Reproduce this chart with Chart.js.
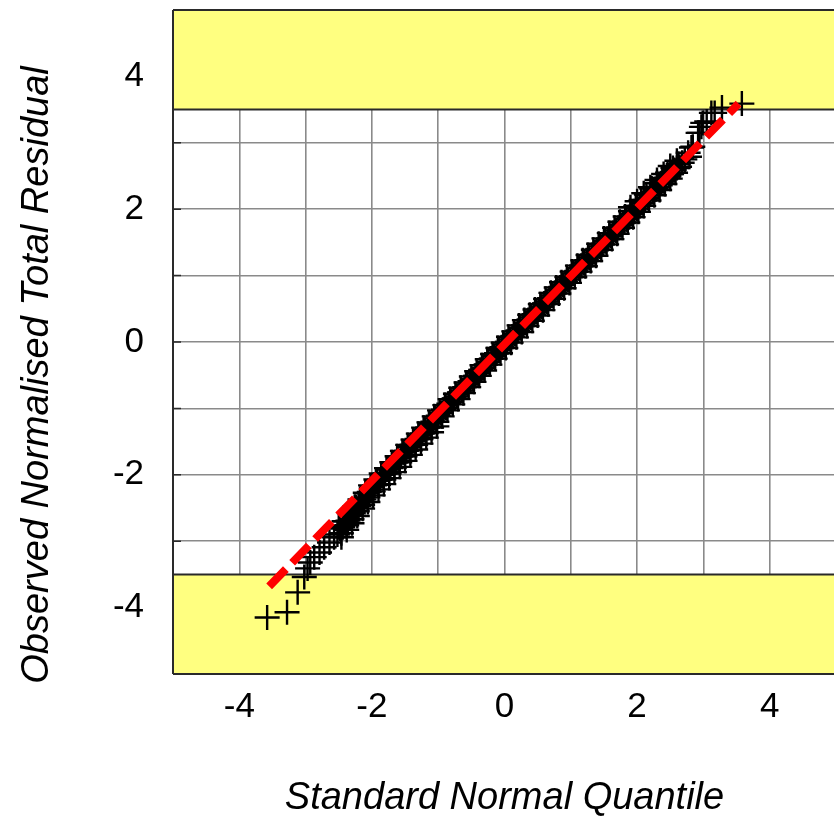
<!DOCTYPE html>
<html>
<head>
<meta charset="utf-8">
<script src="https://cdn.jsdelivr.net/npm/chart.js@4.4.1/dist/chart.umd.min.js"></script>
<style>
  html, body { margin: 0; padding: 0; background: #fff; overflow: hidden; }
  #wrap { width: 840px; height: 817px; }
</style>
</head>
<body>
<div id="wrap"><canvas id="qq"></canvas></div>
<script>
// normal quantiles vs observed normalised residuals
const quantiles = [
  -3.58, -3.28, -3.12, -3.02, -2.97, -2.93, -2.87, -2.79, -2.72, -2.64, -2.57,
  -2.52, -2.48, -2.44, -2.40, -2.36, -2.32, -2.28, -2.24, -2.20, -2.16, -2.12, -2.08, -2.04, -2.00,
  -1.96, -1.92, -1.88, -1.84, -1.80, -1.76, -1.72, -1.68, -1.64, -1.60, -1.56, -1.52, -1.48, -1.44,
  -1.40, -1.36, -1.32, -1.28, -1.24, -1.20, -1.16, -1.12, -1.08, -1.04, -1.00,
  -0.96, -0.92, -0.88, -0.84, -0.80, -0.76, -0.72, -0.68, -0.64, -0.60, -0.56, -0.52, -0.48, -0.44,
  -0.40, -0.36, -0.32, -0.28, -0.24, -0.20, -0.16, -0.12, -0.08, -0.04, 0.00,
  0.04, 0.08, 0.12, 0.16, 0.20, 0.24, 0.28, 0.32, 0.36, 0.40, 0.44, 0.48, 0.52, 0.56, 0.60,
  0.64, 0.68, 0.72, 0.76, 0.80, 0.84, 0.88, 0.92, 0.96, 1.00, 1.04, 1.08, 1.12, 1.16, 1.20,
  1.24, 1.28, 1.32, 1.36, 1.40, 1.44, 1.48, 1.52, 1.56, 1.60, 1.64, 1.68, 1.72, 1.76, 1.80,
  1.84, 1.88, 1.92, 1.96, 2.00, 2.04, 2.08, 2.12, 2.16, 2.20, 2.24, 2.28, 2.32, 2.36, 2.40,
  2.44, 2.48, 2.52, 2.56, 2.60, 2.64, 2.68, 2.72, 2.77, 2.79, 2.82, 2.84, 2.92, 2.94, 2.97,
  2.99, 3.05, 3.12, 3.17, 3.28, 3.58
];
const residuals = [
  -4.15, -4.07, -3.77, -3.54, -3.41, -3.32, -3.24, -3.17, -3.09, -3.02, -2.94,
  -2.90, -2.81, -2.79, -2.70, -2.69, -2.60, -2.58, -2.49, -2.47, -2.38, -2.37, -2.28, -2.26, -2.18,
  -2.16, -2.09, -2.07, -2.00, -1.98, -1.92, -1.90, -1.83, -1.81, -1.75, -1.72, -1.66, -1.64, -1.58,
  -1.55, -1.49, -1.46, -1.41, -1.38, -1.32, -1.29, -1.23, -1.20, -1.15, -1.11,
  -1.07, -1.02, -0.99, -0.93, -0.90, -0.85, -0.82, -0.76, -0.73, -0.68, -0.64, -0.59, -0.56, -0.51,
  -0.47, -0.42, -0.39, -0.34, -0.30, -0.25, -0.21, -0.17, -0.12, -0.08, -0.04,
  0.00, 0.04, 0.08, 0.12, 0.17, 0.21, 0.25, 0.29, 0.33, 0.37, 0.41, 0.45, 0.49, 0.53, 0.58,
  0.61, 0.66, 0.70, 0.74, 0.78, 0.82, 0.86, 0.90, 0.94, 0.98, 1.03, 1.06, 1.11, 1.15, 1.19,
  1.23, 1.27, 1.31, 1.35, 1.39, 1.44, 1.47, 1.52, 1.55, 1.60, 1.64, 1.68, 1.72, 1.76, 1.80,
  1.85, 1.88, 1.93, 1.96, 2.01, 2.05, 2.09, 2.14, 2.17, 2.22, 2.26, 2.30, 2.33, 2.39, 2.42,
  2.47, 2.50, 2.53, 2.59, 2.62, 2.64, 2.70, 2.75, 2.85, 2.79, 2.93, 2.94, 3.15, 3.15, 3.24,
  3.30, 3.32, 3.45, 3.45, 3.53, 3.59
];

// the scattered points either side of the main run
const spreadQuantiles = [
  -2.50, -2.46, -2.42, -2.38, -2.34, -2.30, -2.26, -2.22, -2.18, -2.14, -2.10, -2.06, -2.02,
  -1.98, -1.94, -1.90, -1.86, -1.82, -1.78, -1.74, -1.70, -1.66, -1.62, -1.58, -1.54, -1.50,
  -1.46, -1.42, -1.38, -1.34, -1.30, -1.26, -1.22, -1.18, -1.14, -1.10, -1.06, -1.02,
  -0.98, -0.94, -0.90, -0.86, -0.82, -0.78, -0.74, -0.70, -0.66, -0.62, -0.58, -0.54, -0.50,
  -0.46, -0.42, -0.38, -0.34, -0.30, -0.26, -0.22, -0.18, -0.14, -0.10, -0.06, -0.02,
  0.02, 0.06, 0.10, 0.14, 0.18, 0.22, 0.26, 0.30, 0.34, 0.38, 0.42, 0.46, 0.50, 0.54, 0.58,
  0.62, 0.66, 0.70, 0.74, 0.78, 0.82, 0.86, 0.90, 0.94, 0.98, 1.02, 1.06, 1.10, 1.14, 1.18,
  1.22, 1.26, 1.30, 1.34, 1.38, 1.42, 1.46, 1.50, 1.54, 1.58, 1.62, 1.66, 1.70, 1.74, 1.78,
  1.82, 1.86, 1.90, 1.94, 1.98, 2.02, 2.06, 2.10, 2.14, 2.18, 2.22, 2.26, 2.30, 2.34, 2.38,
  2.42, 2.46, 2.50, 2.54, 2.58, 2.62,
  // low side, left half
  -2.46, -2.38, -2.30, -2.22, -2.14, -2.06, -1.98, -1.90, -1.82, -1.74, -1.66, -1.58, -1.50,
  -1.42, -1.34, -1.26, -1.18, -1.10, -1.02,
  // high side, right end
  1.90, 2.00, 2.10, 2.20, 2.30, 2.40, 2.50, 2.60
];
const spreadResiduals = [
  -2.79, -2.88, -2.70, -2.76, -2.58, -2.67, -2.48, -2.55, -2.37, -2.45, -2.27, -2.34, -2.16,
  -2.25, -2.07, -2.15, -1.98, -2.07, -1.90, -1.98, -1.81, -1.89, -1.72, -1.81, -1.64, -1.72,
  -1.55, -1.63, -1.47, -1.55, -1.38, -1.46, -1.29, -1.37, -1.21, -1.29, -1.12, -1.20,
  -1.03, -1.12, -0.95, -1.03, -0.86, -0.94, -0.78, -0.86, -0.69, -0.77, -0.61, -0.68, -0.52,
  -0.60, -0.44, -0.51, -0.35, -0.43, -0.26, -0.34, -0.18, -0.25, -0.09, -0.17, -0.01,
  -0.09, 0.08, -0.01, 0.16, 0.07, 0.25, 0.15, 0.33, 0.24, 0.41, 0.32, 0.49, 0.40, 0.57, 0.48,
  0.65, 0.57, 0.74, 0.65, 0.82, 0.73, 0.90, 0.81, 0.98, 0.89, 1.06, 0.98, 1.15, 1.06, 1.23,
  1.14, 1.31, 1.22, 1.39, 1.30, 1.48, 1.39, 1.56, 1.47, 1.64, 1.55, 1.72, 1.63, 1.81, 1.72,
  1.89, 1.80, 1.97, 1.88, 2.05, 1.96, 2.14, 2.05, 2.22, 2.13, 2.31, 2.21, 2.39, 2.29, 2.47,
  2.38, 2.55, 2.46, 2.62, 2.55, 2.68,
  -2.94, -2.83, -2.73, -2.62, -2.51, -2.41, -2.31, -2.22, -2.14, -2.05, -1.96, -1.88, -1.79,
  -1.70, -1.62, -1.53, -1.44, -1.36, -1.27,
  2.03, 2.12, 2.24, 2.33, 2.44, 2.53, 2.65, 2.73
];

// fitted reference line (end points)
const refLineX = [-3.55, 3.53];
const refLineY = [-3.68, 3.59];

const tickLabels = ['-4', '-2', '0', '2', '4'];
const bandLimit = 3.5;

const points = quantiles.map((q, i) => ({ x: q, y: residuals[i] }))
  .concat(spreadQuantiles.map((q, i) => ({ x: q, y: spreadResiduals[i] })));
const refLine = refLineX.map((q, i) => ({ x: q, y: refLineY[i] }));

const bandPlugin = {
  id: 'bands',
  beforeDatasetsDraw(chart) {
    const { ctx, chartArea: a, scales: { y } } = chart;
    const hi = y.getPixelForValue(bandLimit);
    const lo = y.getPixelForValue(-bandLimit);
    ctx.save();
    ctx.fillStyle = '#ffff80';
    ctx.strokeStyle = '#2a2a2a';
    ctx.lineWidth = 2;
    ctx.fillRect(a.left, a.top, a.right - a.left, hi - a.top);
    ctx.fillRect(a.left, lo, a.right - a.left, a.bottom - lo);
    ctx.beginPath();
    ctx.moveTo(a.left, a.top); ctx.lineTo(a.right + 2, a.top);
    ctx.moveTo(a.left, hi); ctx.lineTo(a.right + 2, hi);
    ctx.moveTo(a.left, lo); ctx.lineTo(a.right + 2, lo);
    ctx.moveTo(a.left, a.bottom); ctx.lineTo(a.right + 2, a.bottom);
    ctx.moveTo(a.left, a.top); ctx.lineTo(a.left, a.bottom);
    ctx.stroke();
    // short ticks on the inside of the left frame
    ctx.lineWidth = 1.5;
    ctx.beginPath();
    for (let v = -3; v <= 3; v++) {
      const py = y.getPixelForValue(v);
      ctx.moveTo(a.left, py); ctx.lineTo(a.left + 8, py);
    }
    ctx.stroke();
    ctx.restore();
  },
  afterDraw(chart) {
    const { ctx } = chart;
    ctx.save();
    ctx.translate(37, 375);
    ctx.rotate(-Math.PI / 2);
    ctx.font = 'italic 38px "Liberation Sans", Arial, sans-serif';
    ctx.fillStyle = '#000';
    ctx.textAlign = 'center';
    ctx.textBaseline = 'middle';
    ctx.fillText('Observed Normalised Total Residual', 0, 0);
    ctx.restore();
  }
};

const tickFont = { family: '"Liberation Sans", Arial, sans-serif', size: 35 };

new Chart(document.getElementById('qq'), {
  type: 'scatter',
  data: {
    datasets: [
      {
        type: 'line',
        data: refLine,
        borderColor: '#ff0000',
        borderWidth: 8,
        borderDash: [24, 9],
        pointRadius: 0,
        fill: false,
        order: 0
      },
      {
        data: points,
        pointStyle: 'cross',
        pointRadius: 12.5,
        borderWidth: 2.4,
        borderColor: '#000',
        backgroundColor: '#000',
        order: 1
      }
    ]
  },
  options: {
    responsive: true,
    maintainAspectRatio: false,
    animation: false,
    layout: { autoPadding: false, padding: { top: 10, right: 4, left: 0, bottom: 0 } },
    plugins: { legend: { display: false }, tooltip: { enabled: false } },
    scales: {
      x: {
        type: 'linear',
        min: -5,
        max: 5,
        afterFit(scale) {
          scale.height = 143;
          scale.paddingLeft = 0;
          scale.paddingRight = 0;
        },
        ticks: {
          stepSize: 1,
          autoSkip: false,
          maxRotation: 0,
          padding: 12,
          color: '#000',
          font: tickFont,
          callback: v => tickLabels.includes(String(v)) ? String(v) : ''
        },
        grid: { color: '#8a8a8a', lineWidth: 1.6, drawTicks: false },
        border: { display: false },
        title: {
          display: true,
          text: 'Standard Normal Quantile',
          color: '#000',
          font: { family: '"Liberation Sans", Arial, sans-serif', size: 38, style: 'italic', lineHeight: 1 },
          padding: { top: 0, bottom: 0 }
        }
      },
      y: {
        type: 'linear',
        min: -5,
        max: 5,
        afterFit(scale) {
          scale.width = 173;
          scale.paddingTop = 0;
          scale.paddingBottom = 0;
        },
        ticks: {
          stepSize: 1,
          autoSkip: false,
          padding: 29,
          color: '#000',
          font: tickFont,
          callback: v => tickLabels.includes(String(v)) ? String(v) : ''
        },
        grid: { color: '#8a8a8a', lineWidth: 1.6, drawTicks: false },
        border: { display: false }
      }
    }
  },
  plugins: [bandPlugin]
});
</script>
</body>
</html>
